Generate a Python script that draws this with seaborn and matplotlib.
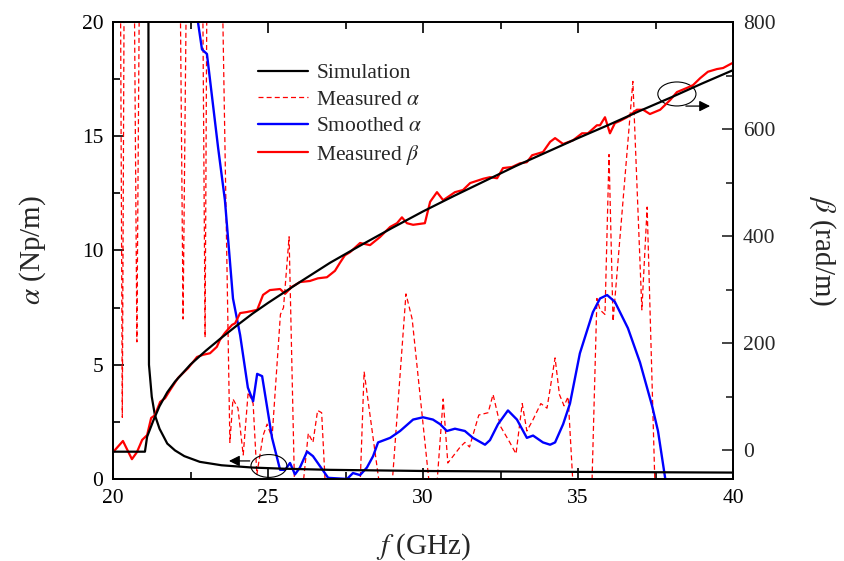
import numpy as np
import pandas as pd
import matplotlib
matplotlib.use("Agg")
import matplotlib.pyplot as plt
import seaborn as sns
from matplotlib.patches import Ellipse
from matplotlib.ticker import MultipleLocator

# ---------------- data ----------------
# Simulation alpha (left axis, Np/m)
f_sim_a = [21.12, 21.16, 21.25, 21.35, 21.5, 21.75, 22.0, 22.3, 22.8, 23.5, 24.5, 25.5, 27.0, 30.0, 35.0, 40.0]
alpha_sim = [40.0, 5.0, 3.6, 2.8, 2.2, 1.55, 1.25, 1.0, 0.75, 0.6, 0.5, 0.45, 0.4, 0.35, 0.31, 0.28]

# Simulation beta (right axis, rad/m)
f_sim_b = [20.0, 21.03, 21.1, 21.3, 21.5, 21.75, 22.0, 22.5, 23.0, 23.5, 24.0, 24.5, 25.0, 26.0, 27.0,
           28.0, 29.0, 30.0, 31.0, 32.0, 33.0, 34.0, 35.0, 36.0, 37.0, 38.0, 39.0, 40.0]
beta_sim = [-3, -3, 25, 55, 82, 108, 128, 160, 186, 210, 233, 255, 275, 313, 350,
            383, 415, 446, 475, 503, 531, 557, 583, 608, 634, 659, 685, 710]

# Measured alpha (dashed)
f_meas_a = [20.0, 20.12, 20.3, 20.48, 20.77, 21.05, 21.4, 21.8, 22.05, 22.26, 22.5, 22.8, 22.97, 23.1, 23.3,
            23.77, 23.87, 24.03, 24.2, 24.36, 24.52, 24.64, 24.84, 24.97, 25.13, 25.4, 25.5, 25.68, 25.85,
            26.15, 26.3, 26.45, 26.6, 26.73, 26.85, 27.4, 27.97, 28.1, 28.6, 29.0, 29.45, 29.65, 30.2, 30.45,
            30.65, 30.8, 31.2, 31.35, 31.5, 31.8, 32.1, 32.26, 32.5, 32.8, 33.0, 33.2, 33.35, 33.55, 33.8,
            34.0, 34.26, 34.4, 34.55, 34.68, 34.84, 35.2, 35.45, 35.61, 35.71, 35.87, 36.0, 36.13, 36.77,
            37.06, 37.23, 37.48, 38.0, 39.0, 40.0]
alpha_meas = [16.2, 60, 2.7, 60, 6.0, 60, 60, 60, 40, 7.0, 40, 40, 6.2, 40, 40,
              1.6, 3.5, 3.1, 1.05, 3.8, 3.3, 0.2, 1.9, 2.4, 1.8, 7.2, 7.5, 10.6, 0.0,
              0.0, 2.0, 1.6, 3.0, 2.9, -0.3, -0.5, -0.3, 4.7, -0.3, -0.3, 8.1, 7.0, -0.2, -0.2,
              3.5, 0.7, 1.4, 1.6, 1.4, 2.8, 2.9, 3.7, 2.3, 1.6, 1.1, 3.3, 2.1, 2.6, 3.3,
              3.1, 5.3, 3.7, 3.2, 3.6, -0.3, -0.5, -0.2, 7.9, 7.4, 7.2, 14.2, 6.9, 17.4,
              7.4, 11.9, -0.2, -2, -2, -2]

# Smoothed alpha
f_smooth = [22.6, 22.74, 22.87, 23.03, 23.39, 23.61, 23.87, 24.10, 24.35, 24.52, 24.65, 24.81, 25.13, 25.39,
            25.55, 25.71, 25.87, 26.03, 26.26, 26.45, 26.94, 27.55, 27.74, 27.97, 28.19, 28.39, 28.55, 28.94,
            29.26, 29.68, 30.0, 30.32, 30.55, 30.77, 31.03, 31.35, 31.61, 32.0, 32.16, 32.42, 32.74, 33.03,
            33.35, 33.55, 33.87, 34.1, 34.26, 34.52, 34.74, 35.06, 35.48, 35.71, 35.94, 36.19, 36.61, 37.0,
            37.39, 37.58, 37.81, 38.0]
alpha_smooth = [25, 20.0, 18.8, 18.6, 14.5, 12.2, 7.9, 6.3, 4.0, 3.4, 4.6, 4.5, 1.8, 0.4,
                0.4, 0.7, 0.2, 0.5, 1.2, 1.0, 0.05, 0.0, 0.26, 0.17, 0.5, 1.0, 1.6, 1.8,
                2.1, 2.6, 2.7, 2.6, 2.4, 2.1, 2.2, 2.1, 1.8, 1.5, 1.7, 2.4, 3.0, 2.6,
                1.8, 1.9, 1.6, 1.5, 1.6, 2.4, 3.3, 5.5, 7.3, 7.9, 8.05, 7.75, 6.6, 5.1,
                3.2, 2.1, 0.05, -1.0]

# Measured beta
f_meas_b = [20.0, 20.32, 20.61, 20.77, 20.94, 21.10, 21.23, 21.35, 21.52, 21.68, 21.84, 22.10, 22.42, 22.71,
            22.90, 23.13, 23.35, 23.45, 23.61, 23.84, 23.94, 24.10, 24.32, 24.65, 24.84, 25.06, 25.39, 25.55,
            25.77, 26.03, 26.35, 26.61, 26.90, 27.16, 27.32, 27.48, 27.65, 27.97, 28.29, 28.61, 28.94, 29.16,
            29.32, 29.48, 29.68, 30.06, 30.23, 30.45, 30.65, 31.03, 31.29, 31.52, 31.94, 32.16, 32.39, 32.58,
            32.87, 33.13, 33.35, 33.52, 33.87, 34.10, 34.26, 34.52, 34.84, 35.13, 35.32, 35.61, 35.71, 35.87,
            36.03, 36.19, 36.35, 36.58, 36.90, 37.10, 37.32, 37.65, 37.97, 38.19, 38.52, 38.71, 38.94, 39.19,
            39.48, 39.68, 39.97]
beta_meas = [-4, 17, -17, -4, 19, 28, 60, 65, 90, 97, 112, 135, 153, 174,
             178, 181, 193, 206, 219, 234, 237, 256, 258, 262, 290, 299, 301, 292,
             305, 314, 316, 321, 323, 335, 350, 364, 370, 387, 383, 398, 417, 424,
             435, 424, 421, 424, 464, 482, 467, 482, 486, 499, 507, 510, 508, 527,
             529, 536, 538, 551, 557, 576, 583, 572, 579, 592, 592, 607, 607, 622,
             592, 611, 615, 622, 636, 636, 628, 636, 654, 669, 677, 682, 695, 707,
             712, 714, 723]

x_ticks = [20, 25, 30, 35, 40]
alpha_ticks = [0, 5, 10, 15, 20]
beta_ticks = [0, 200, 400, 600, 800]

# ---------------- style ----------------
sns.set_style("ticks")
plt.rcParams['font.family'] = ['Liberation Serif', 'DejaVu Serif']
plt.rcParams['mathtext.fontset'] = 'stix'

fig = plt.figure(figsize=(8.44, 5.61), dpi=100)
ax = fig.add_axes([0.1339, 0.1462, 0.7346, 0.8146])
ax2 = ax.twinx()

sns.lineplot(x=f_meas_a, y=alpha_meas, ax=ax, color='#ff0000', lw=0.9, linestyle=(0, (4, 2.5)),
             estimator=None, sort=False, label='Measured $\\alpha$', legend=False)
sns.lineplot(x=f_smooth, y=alpha_smooth, ax=ax, color='#0000ff', lw=1.7,
             estimator=None, sort=False, label='Smoothed $\\alpha$', legend=False)
sns.lineplot(x=f_sim_a, y=alpha_sim, ax=ax, color='black', lw=1.6,
             estimator=None, sort=False, label='Simulation', legend=False)

sns.lineplot(x=f_meas_b, y=beta_meas, ax=ax2, color='#ff0000', lw=1.6,
             estimator=None, sort=False, label='Measured $\\beta$', legend=False)
sns.lineplot(x=f_sim_b, y=beta_sim, ax=ax2, color='black', lw=1.6,
             estimator=None, sort=False, label='_sim_beta', legend=False)

for a in (ax, ax2):
    if a.get_legend() is not None:
        a.get_legend().remove()

ax.set_xlim(20, 40)
ax.set_ylim(0, 20)
ax2.set_ylim(-54, 800)
ax.set_xticks(x_ticks)
ax.set_yticks(alpha_ticks)
ax2.set_yticks(beta_ticks)
ax.xaxis.set_minor_locator(MultipleLocator(2.5))
ax.yaxis.set_minor_locator(MultipleLocator(2.5))
ax2.yaxis.set_minor_locator(MultipleLocator(100))

ax.tick_params(axis='both', which='both', direction='in', top=True, right=False,
               width=1.2, labelsize=15.5, pad=7, colors='black')
ax.tick_params(which='major', length=8)
ax.tick_params(which='minor', length=5)
ax2.tick_params(axis='y', which='both', direction='in', right=True, width=1.2,
                labelsize=15.5, pad=7)
ax2.tick_params(which='major', length=8)
ax2.tick_params(which='minor', length=5)

for a in (ax, ax2):
    for s in a.spines.values():
        s.set_linewidth(1.3)
        s.set_color('black')
        s.set_visible(True)

ax.set_xlabel('$f$ (GHz)', fontsize=21, labelpad=17)
ax.set_ylabel('$\\alpha$ (Np/m)', fontsize=21, labelpad=24)
ax2.set_ylabel('$\\beta$ (rad/m)', fontsize=21, rotation=270, va='bottom', labelpad=23)

# annotation ellipses / arrows
ax2.add_patch(Ellipse((25.03, 0.57), 1.16, 1.0, fill=False, ec='black', lw=0.8, transform=ax.transData))
ax2.annotate('', xy=(23.65, 0.79), xytext=(24.5, 0.79), xycoords=ax.transData, textcoords=ax.transData,
             arrowprops=dict(arrowstyle='-|>', color='black', lw=0.9, mutation_scale=16))
ax2.add_patch(Ellipse((38.19, 16.85), 1.23, 1.05, fill=False, ec='black', lw=0.8, transform=ax.transData))
ax2.annotate('', xy=(39.35, 16.32), xytext=(38.39, 16.32), xycoords=ax.transData, textcoords=ax.transData,
             arrowprops=dict(arrowstyle='-|>', color='black', lw=0.9, mutation_scale=16))

# legend
def find(a, lab):
    return [l for l in a.lines if l.get_label() == lab][0]

handles = [find(ax, 'Simulation'), find(ax, 'Measured $\\alpha$'),
           find(ax, 'Smoothed $\\alpha$'), find(ax2, 'Measured $\\beta$')]
labels = ['Simulation', 'Measured $\\alpha$', 'Smoothed $\\alpha$', 'Measured $\\beta$']
ax2.legend(handles, labels, loc='upper left', bbox_to_anchor=(0.22, 0.929), frameon=False,
           fontsize=15.5, handlelength=2.3, handletextpad=0.4, labelspacing=0.3, borderaxespad=0)

fig.savefig('out.png', dpi=100)
